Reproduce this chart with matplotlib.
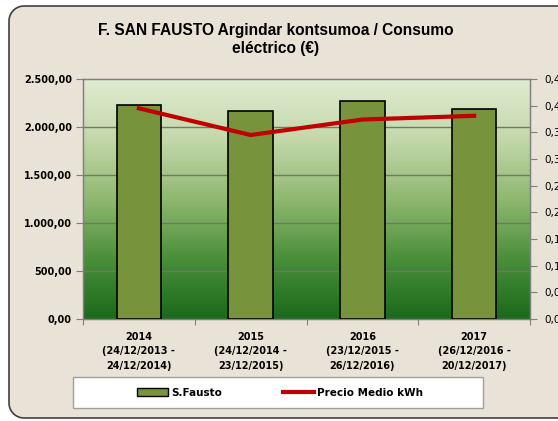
import matplotlib.pyplot as plt
import numpy as np
from matplotlib.patches import Rectangle, Patch, PathPatch
from matplotlib.path import Path
from matplotlib.lines import Line2D
from matplotlib.colors import LinearSegmentedColormap
from matplotlib.transforms import IdentityTransform

# datos del gráfico
categorias = ["2014\n(24/12/2013 -\n24/12/2014)",
              "2015\n(24/12/2014 -\n23/12/2015)",
              "2016\n(23/12/2015 -\n26/12/2016)",
              "2017\n(26/12/2016 -\n20/12/2017)"]
consumo = [2229, 2170, 2271, 2191]
precio_medio = [0.395, 0.345, 0.374, 0.381]
ticks_izq = [0, 500, 1000, 1500, 2000, 2500]
ticks_der = [0.00, 0.05, 0.10, 0.15, 0.20, 0.25, 0.30, 0.35, 0.40, 0.45]

W, H = 558, 421
fig = plt.figure(figsize=(W / 100, H / 100), dpi=100)
fig.patch.set_facecolor("white")

# fondo: sólo las esquinas izquierdas redondeadas, el lado derecho sale de la imagen
r, x0, y0, y1, x1 = 15, 9, 3, 415, 600
t = np.linspace(0, np.pi / 2, 12)
arriba = np.column_stack([x0 + r - r * np.sin(t), y1 - r + r * np.cos(t)])
abajo = np.column_stack([x0 + r - r * np.cos(t), y0 + r - r * np.sin(t)])
verts = np.vstack([[[x1, y1]], arriba, abajo, [[x1, y0]]])
fondo = PathPatch(Path(np.vstack([verts, verts[:1]]), closed=True),
                  transform=IdentityTransform(), facecolor="#e9e2d6",
                  edgecolor="none", zorder=-5)
borde = PathPatch(Path(verts), transform=IdentityTransform(), fill=False,
                  edgecolor="#404040", linewidth=1.2, zorder=-4)
fig.patches.extend([fondo, borde])

ax = fig.add_axes([83 / W, 1 - 319 / H, (530 - 83) / W, (319 - 79) / H])
ax.set_facecolor("none")

# degradado verde del área de trazado
cmap = LinearSegmentedColormap.from_list(
    "verde", ["#1a6a1a", "#4a8f3a", "#8fb870", "#c4d8aa", "#e0ebd2"])
grad = np.linspace(0, 1, 256).reshape(-1, 1)
ax.imshow(grad, cmap=cmap, aspect="auto", origin="lower",
          extent=[0, 1, 0, 1], transform=ax.transAxes, zorder=0)

x = np.arange(len(categorias))
ax.bar(x, consumo, width=0.4, color="#77933c", edgecolor="black",
       linewidth=1.2, zorder=3)

ax.set_xlim(-0.5, 3.5)
ax.set_ylim(0, 2500)
ax.set_yticks(ticks_izq)
ax.set_yticklabels([f"{v:,.2f}".replace(",", "X").replace(".", ",").replace("X", ".")
                    for v in ticks_izq], fontsize=7, fontweight="bold")
for v in ticks_izq[1:-1]:
    ax.axhline(v, color="#6e7a64", linewidth=1, zorder=1)

ax.set_xticks(np.arange(-0.5, 4, 1))
ax.set_xticklabels([])
ax.set_xticks(x, minor=True)
ax.set_xticklabels(categorias, minor=True, fontsize=7, fontweight="bold",
                   linespacing=1.6)
ax.tick_params(axis="x", which="minor", length=0, pad=9)
ax.tick_params(axis="x", which="major", length=4, color="#808080")
ax.tick_params(axis="y", length=5, color="#808080", pad=3)
for s in ax.spines.values():
    s.set_color("#808080")
    s.set_linewidth(1)

ax2 = ax.twinx()
ax2.plot(x, precio_medio, color="#c00000", linewidth=3, zorder=4)
ax2.set_ylim(0, 0.45)
ax2.set_yticks(ticks_der)
ax2.set_yticklabels([f"{v:.2f}".replace(".", ",") for v in ticks_der],
                    fontsize=7.5)
ax2.tick_params(axis="y", length=5, color="#808080", pad=5)
for s in ax2.spines.values():
    s.set_color("#808080")

fig.text(276 / W, 1 - 40 / H,
         "F. SAN FAUSTO Argindar kontsumoa / Consumo\neléctrico (€)",
         ha="center", va="center", fontsize=11.2, fontweight="bold",
         family="Liberation Sans", linespacing=1.25)

# leyenda
caja = Rectangle((73 / W, 1 - 408 / H), 410 / W, 31 / H,
                 transform=fig.transFigure, facecolor="white",
                 edgecolor="#a0a0a0", linewidth=1, zorder=1)
fig.patches.append(caja)
handles = [Patch(facecolor="#77933c", edgecolor="black", linewidth=1),
           Line2D([], [], color="#c00000", linewidth=3)]
fig.legend(handles, ["S.Fausto", "Precio Medio kWh"], loc="center",
           bbox_to_anchor=(280 / W, 1 - 393 / H), ncol=2, frameon=False,
           prop={"size": 7.5, "weight": "bold"}, handlelength=3,
           handletextpad=0.3, columnspacing=5.8, handleheight=0.8)

fig.savefig("out.png", dpi=100)
